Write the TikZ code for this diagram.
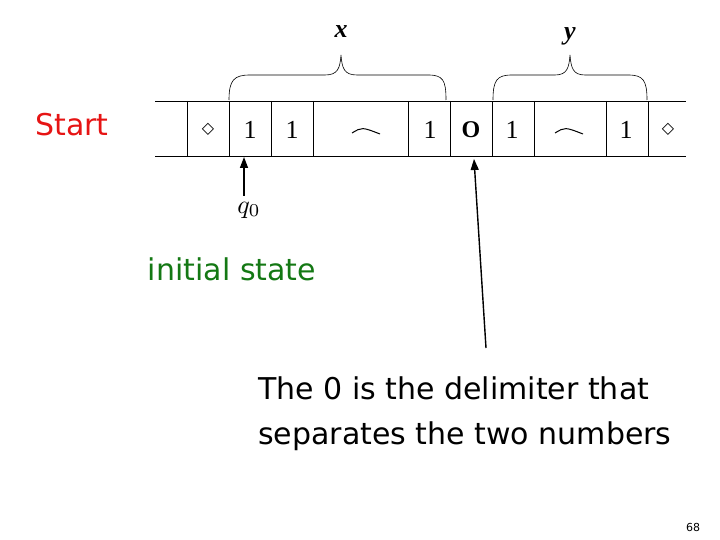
\documentclass[tikz,border=0pt]{standalone}
\usepackage{fontspec}
\setmainfont{Liberation Serif}
\newfontfamily\djfont{DejaVu Sans}
\usetikzlibrary{arrows.meta}
\definecolor{startred}{RGB}{230,20,20}
\definecolor{initgreen}{RGB}{20,120,20}
\begin{document}
\begin{tikzpicture}[x=1pt,y=-1pt,
  lbl/.style={font=\djfont\fontsize{30}{36}\selectfont,inner sep=0},
  cell/.style={font=\fontsize{26}{30}\selectfont,inner sep=0},
  ptr/.style={line width=1.4pt,-{Triangle[length=11pt,width=8pt]}},
  br/.style={line width=0.6pt}]
\useasboundingbox (0,0) rectangle (720,540);
\draw[line width=0.6pt] (155,101) -- (686,101) (155,156) -- (686,156);
\foreach \x in {187,229,271,313,408,450,492,534,606,648}
  \draw[line width=0.6pt] (\x,101) -- (\x,156);
\node[cell,font=\djfont\fontsize{16}{18}\selectfont] (c0) at (208,129) {◇};
\node[cell] (c1) at (250,130) {1};
\node[cell] (c2) at (292,130) {1};
\draw[line width=1pt] (352,133) .. controls (362,127) .. (380,134);
\node[cell] (c4) at (430,130) {1};
\node[cell,font=\bfseries\fontsize{24}{28}\selectfont] (c5) at (471,130) {O};
\node[cell] (c6) at (512,130) {1};
\draw[line width=1pt] (555,133) .. controls (565,127) .. (583,134);
\node[cell] (c8) at (626,130) {1};
\node[cell,font=\djfont\fontsize{16}{18}\selectfont] (c9) at (668,129) {◇};
% braces
\draw[br] (229,100) .. controls (229,80) and (234,75) .. (250,75) -- (325,75)
  .. controls (338,75) and (340,68) .. (341,55)
  .. controls (342,68) and (344,75) .. (357,75) -- (428,75)
  .. controls (443,75) and (446,80) .. (446,100);
\draw[br] (493,100) .. controls (493,80) and (497,75) .. (512,75) -- (555,75)
  .. controls (567,75) and (569,68) .. (570,55)
  .. controls (571,68) and (573,75) .. (585,75) -- (628,75)
  .. controls (643,75) and (647,80) .. (647,100);
\node[cell,font=\bfseries\itshape\fontsize{26}{28}\selectfont] (bx) at (341,32) {x};
\node[cell,font=\bfseries\itshape\fontsize{26}{28}\selectfont] (by) at (570,36) {y};
% arrows
\coordinate (a0) at (244,196);
\coordinate (a1) at (486,348);
\draw[ptr] (a0) -- (244,157);
\draw[ptr] (a1) -- (474,159);
\node[inner sep=0,scale=2.6] (q) at (249,210) {$q_0$};
\node[lbl,text=startred] (st) at (72,125) {Start};
\node[lbl,text=initgreen] (is) at (232,269) {initial state};
\node[lbl,anchor=west] (t1) at (258,388) {The 0 is the delimiter that};
\node[lbl,anchor=west] (t2) at (258,436) {separates the two numbers};
\node[inner sep=0,font=\djfont\fontsize{11}{12}\selectfont] (pg) at (693,527) {68};
\end{tikzpicture}
\end{document}
